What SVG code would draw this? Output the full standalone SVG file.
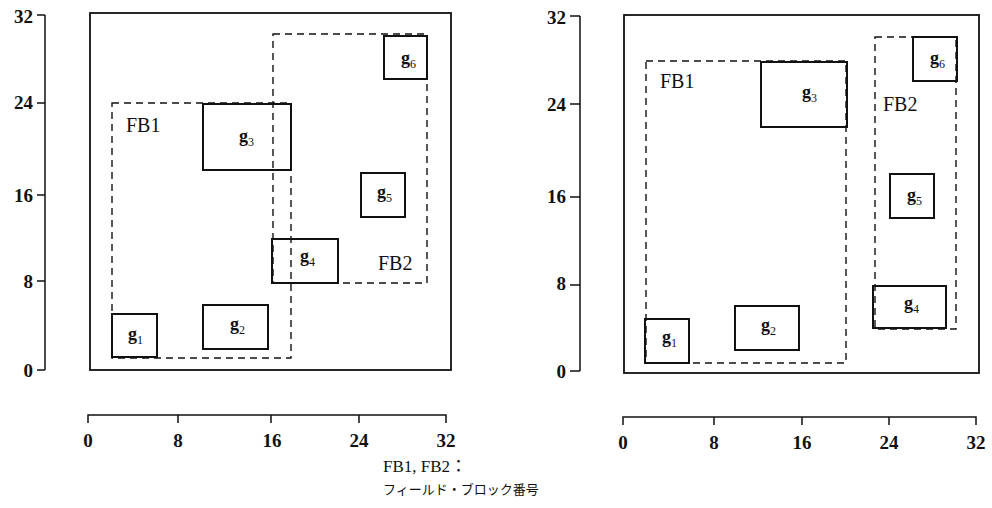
<svg xmlns="http://www.w3.org/2000/svg" width="992" height="508" viewBox="0 0 992 508">
<style>
.frame{fill:none;stroke:#111;stroke-width:1.8}
.blk{fill:none;stroke:#111;stroke-width:2}
.fb{fill:none;stroke:#111;stroke-width:1.4;stroke-dasharray:7 5}
.ax{fill:none;stroke:#111;stroke-width:1.5}
.t{font-family:"Liberation Serif","Times New Roman",serif;fill:#111}
.num{font-size:19px;font-weight:bold}
.fbl{font-size:20px}
.g{font-size:18px;font-weight:bold}
.sub{font-size:12px;font-weight:normal}
.cap{font-family:"Liberation Serif","Noto Sans CJK JP",serif;fill:#111}
</style>
<rect width="992" height="508" fill="#fff"/>

<!-- LEFT PANEL -->
<g id="left-axes">
<path class="ax" d="M45,15 V370 M37,15 H45 M37,103 H45 M37,195 H45 M37,281 H45 M37,370 H45"/>
<text class="t num" x="33" y="23" text-anchor="end">32</text>
<text class="t num" x="33" y="109" text-anchor="end">24</text>
<text class="t num" x="33" y="202" text-anchor="end">16</text>
<text class="t num" x="33" y="288" text-anchor="end">8</text>
<text class="t num" x="33" y="377" text-anchor="end">0</text>
<path class="ax" d="M88,423 V415 H446 V423 M178,415 V423 M271,415 V423 M359,415 V423"/>
<text class="t num" x="88" y="447" text-anchor="middle">0</text>
<text class="t num" x="178" y="447" text-anchor="middle">8</text>
<text class="t num" x="272" y="447" text-anchor="middle">16</text>
<text class="t num" x="359" y="447" text-anchor="middle">24</text>
<text class="t num" x="446" y="447" text-anchor="middle">32</text>
</g>
<g id="left-frame"><rect class="frame" x="90" y="13" width="361" height="357"/></g>
<g id="left-FB1"><rect class="fb" x="112" y="103" width="179" height="255"/><text class="t fbl" x="126" y="132">FB1</text></g>
<g id="left-FB2"><rect class="fb" x="273" y="34" width="154" height="249"/><text class="t fbl" x="378" y="270">FB2</text></g>
<g id="left-g1"><rect class="blk" x="112" y="314" width="45" height="43"/><text class="t g" x="128" y="340">g<tspan class="sub" dy="4">1</tspan></text></g>
<g id="left-g2"><rect class="blk" x="203" y="305" width="65" height="44"/><text class="t g" x="230" y="330">g<tspan class="sub" dy="4">2</tspan></text></g>
<g id="left-g3"><rect class="blk" x="203" y="104" width="88" height="66"/><text class="t g" x="239" y="142">g<tspan class="sub" dy="4">3</tspan></text></g>
<g id="left-g4"><rect class="blk" x="272" y="239" width="66" height="44"/><text class="t g" x="300" y="262">g<tspan class="sub" dy="4">4</tspan></text></g>
<g id="left-g5"><rect class="blk" x="361" y="173" width="44" height="44"/><text class="t g" x="377" y="198">g<tspan class="sub" dy="4">5</tspan></text></g>
<g id="left-g6"><rect class="blk" x="384" y="36" width="43" height="43"/><text class="t g" x="401" y="64">g<tspan class="sub" dy="4">6</tspan></text></g>

<!-- RIGHT PANEL -->
<g id="right-axes">
<path class="ax" d="M580,16 V371 M570,16 H580 M570,104 H580 M570,197 H580 M570,285 H580 M570,371 H580"/>
<text class="t num" x="566" y="24" text-anchor="end">32</text>
<text class="t num" x="566" y="111" text-anchor="end">24</text>
<text class="t num" x="566" y="203" text-anchor="end">16</text>
<text class="t num" x="566" y="290" text-anchor="end">8</text>
<text class="t num" x="566" y="378" text-anchor="end">0</text>
<path class="ax" d="M623,425 V417 H976 V425 M714,417 V425 M802,417 V425 M889,417 V425"/>
<text class="t num" x="623" y="449" text-anchor="middle">0</text>
<text class="t num" x="714" y="449" text-anchor="middle">8</text>
<text class="t num" x="802" y="449" text-anchor="middle">16</text>
<text class="t num" x="889" y="449" text-anchor="middle">24</text>
<text class="t num" x="976" y="449" text-anchor="middle">32</text>
</g>
<g id="right-frame"><rect class="frame" x="624" y="15" width="355" height="358"/></g>
<g id="right-FB1"><rect class="fb" x="646" y="61" width="200" height="302"/><text class="t fbl" x="660" y="88">FB1</text></g>
<g id="right-FB2"><rect class="fb" x="875" y="37" width="81" height="292"/><text class="t fbl" x="883" y="111">FB2</text></g>
<g id="right-g1"><rect class="blk" x="645" y="319" width="44" height="44"/><text class="t g" x="662" y="343">g<tspan class="sub" dy="4">1</tspan></text></g>
<g id="right-g2"><rect class="blk" x="735" y="306" width="64" height="44"/><text class="t g" x="761" y="331">g<tspan class="sub" dy="4">2</tspan></text></g>
<g id="right-g3"><rect class="blk" x="761" y="62" width="86" height="65"/><text class="t g" x="802" y="98">g<tspan class="sub" dy="4">3</tspan></text></g>
<g id="right-g4"><rect class="blk" x="873" y="286" width="73" height="42"/><text class="t g" x="904" y="309">g<tspan class="sub" dy="4">4</tspan></text></g>
<g id="right-g5"><rect class="blk" x="890" y="174" width="44" height="44"/><text class="t g" x="907" y="201">g<tspan class="sub" dy="4">5</tspan></text></g>
<g id="right-g6"><rect class="blk" x="913" y="37" width="44" height="44"/><text class="t g" x="930" y="64">g<tspan class="sub" dy="4">6</tspan></text></g>

<!-- CAPTION -->
<g id="caption">
<text class="cap" x="383" y="472" font-size="17">FB1, FB2：</text>
<text class="cap" x="383" y="494" font-size="13">フィールド・ブロック番号</text>
</g>
</svg>
